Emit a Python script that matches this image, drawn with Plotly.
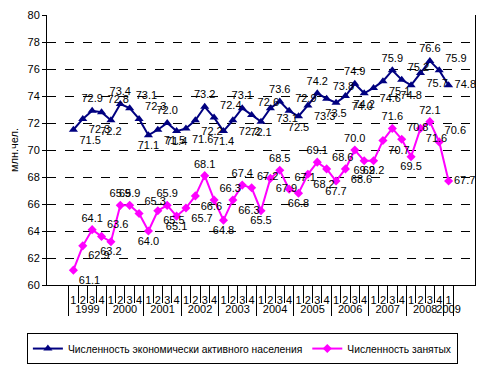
import plotly.graph_objects as go

# ---- data ----
years = ["1999", "2000", "2001", "2002", "2003", "2004", "2005", "2006", "2007", "2008", "2009"]
quarter_labels = ["1", "2", "3", "4"]

active = [71.5, 72.3, 72.9, 72.8,
          72.2, 73.4, 73.1, 72.3,
          71.1, 71.5, 72.0, 71.4,
          71.6, 72.2, 73.2, 72.4,
          71.4, 72.2, 73.1, 72.6,
          72.1, 73.1, 73.6, 72.9,
          72.5, 73.3, 74.2, 73.8,
          73.5, 74.0, 74.9, 74.2,
          74.6, 75.1, 75.9, 75.2,
          74.8, 75.7, 76.6, 75.9,
          74.8]

employed = [61.1, 62.9, 64.1, 63.6,
            63.2, 65.9, 65.9, 65.3,
            64.0, 65.5, 65.9, 65.1,
            65.7, 66.6, 68.1, 66.3,
            64.8, 66.3, 67.4, 67.2,
            65.5, 67.9, 68.5, 67.1,
            66.8, 68.2, 69.1, 68.6,
            67.7, 68.6, 70.0, 69.2,
            69.2, 70.7, 71.6, 70.8,
            69.5, 71.6, 72.1, 70.6,
            67.7]

name_active = "Численность экономически активного населения"
name_employed = "Численность занятых"
y_title = "млн.чел."

# build two-level category axis from the lists
year_cat, quarter_cat = [], []
for y in years[:-1]:
    for q in quarter_labels:
        year_cat.append(y)
        quarter_cat.append(q)
year_cat.append(years[-1])
quarter_cat.append(quarter_labels[0])
x = [year_cat, quarter_cat]


def positions(vals):
    out = []
    n = len(vals)
    for i, v in enumerate(vals):
        prev = vals[i - 1] if i > 0 else None
        nxt = vals[i + 1] if i < n - 1 else None
        if prev is not None and nxt is not None:
            if v >= prev and v >= nxt:
                out.append("top center")
            elif v <= prev and v <= nxt:
                out.append("bottom center")
            elif nxt > v:
                out.append("bottom right")
            else:
                out.append("top right")
        elif prev is None:
            out.append("bottom right")
        else:
            out.append("middle right")
    return out


FONT = "Liberation Sans, Arial, sans-serif"

fig = go.Figure()
fig.add_trace(go.Scatter(
    x=x, y=active, name=name_active,
    mode="lines+markers+text",
    line=dict(color="#000080", width=2),
    marker=dict(symbol="triangle-up", size=8, color="#000080"),
    text=[f"{v:.1f}" for v in active],
    textposition=positions(active),
    textfont=dict(family=FONT, size=11, color="black"),
))
fig.add_trace(go.Scatter(
    x=x, y=employed, name=name_employed,
    mode="lines+markers+text",
    line=dict(color="#FF00FF", width=2),
    marker=dict(symbol="diamond", size=7, color="#FF00FF"),
    text=[f"{v:.1f}" for v in employed],
    textposition=positions(employed),
    textfont=dict(family=FONT, size=11, color="black"),
))

# the page body adds an 8px offset, so the figure is sized to fit the window
fig.update_layout(
    width=485, height=357,
    margin=dict(l=39, r=18, t=7, b=80, autoexpand=False),
    paper_bgcolor="white", plot_bgcolor="white",
    font=dict(family=FONT, size=11, color="black"),
    showlegend=True,
    legend=dict(orientation="h", x=-0.047, xanchor="left", y=-0.178, yanchor="top",
                bordercolor="black", borderwidth=1, font=dict(size=10.3),
                itemwidth=30, tracegroupgap=0),
)
fig.update_xaxes(
    type="multicategory", showline=True, linecolor="black", linewidth=1,
    ticks="outside", ticklen=17, tickcolor="black", showgrid=False,
    tickangle=0, nticks=60, ticklabelstandoff=5,
    showdividers=True, dividercolor="black", dividerwidth=1,
    tickfont=dict(family=FONT, size=11, color="black"),
)
fig.update_yaxes(
    range=[60, 80], dtick=2, showline=True, linecolor="black", linewidth=1, mirror=True,
    ticks="outside", ticklen=4, tickcolor="black",
    showgrid=True, gridcolor="black", griddash="dash", gridwidth=1,
    zeroline=False,
    title=dict(text=y_title, font=dict(family=FONT, size=11), standoff=8),
    tickfont=dict(family=FONT, size=11, color="black"),
)

fig.write_html("out.html")
